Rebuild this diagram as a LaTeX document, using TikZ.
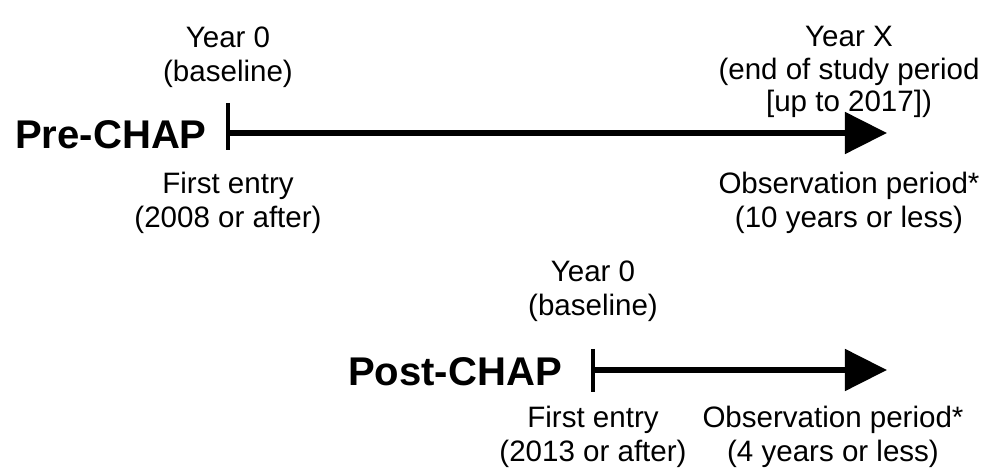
\documentclass[tikz,border=0pt]{standalone}
\usepackage{fontspec}
\setmainfont{Liberation Sans}
\usepackage{tikz}
\usetikzlibrary{arrows.meta}

\begin{document}
\begin{tikzpicture}[x=0.025cm, y=-0.025cm,
	  lbl/.style={align=center, font=\fontsize{21}{24.5}\selectfont},
	  grp/.style={font=\fontsize{28.5}{32}\selectfont\bfseries},
	  tickmark/.style={line width=0.1cm},
	  timeline/.style={line width=0.14cm, -{Triangle[length=1.05cm, width=1.02cm]}}]
	  \useasboundingbox (0,0) rectangle (994,471);
	  % pre-CHAP row
	  \draw(111,135) node[grp](pre) {Pre-CHAP};
	  \coordinate (pretop) at (228,103);
	  \coordinate (prebot) at (228,150);
	  \coordinate (prestart) at (228,133);
	  \coordinate (preend) at (887,133);
	  \draw[tickmark](pretop) -- (prebot);
	  \draw[timeline](prestart) -- (preend);
	  \draw(228,57) node[lbl](prebase) {Year 0\\(baseline)};
	  \draw(228,203) node[lbl](preentry) {First entry\\(2008 or after)};
	  \draw(849,72) node[lbl,font=\fontsize{21}{23}\selectfont](prestudy) {Year X\\(end of study period\\{}[up to 2017])};
	  \draw(849,203) node[lbl](preobs) {Observation period*\\(10 years or less)};
	  % post-CHAP row
	  \draw(455,372) node[grp](post) {Post-CHAP};
	  \coordinate (posttop) at (593,349);
	  \coordinate (postbot) at (593,392);
	  \coordinate (poststart) at (593,370);
	  \coordinate (postend) at (887,370);
	  \draw[tickmark](posttop) -- (postbot);
	  \draw[timeline](poststart) -- (postend);
	  \draw(593,291) node[lbl](postbase) {Year 0\\(baseline)};
	  \draw(593,437) node[lbl](postentry) {First entry\\(2013 or after)};
	  \draw(833,437) node[lbl](postobs) {Observation period*\\(4 years or less)};
	\end{tikzpicture}
\end{document}
